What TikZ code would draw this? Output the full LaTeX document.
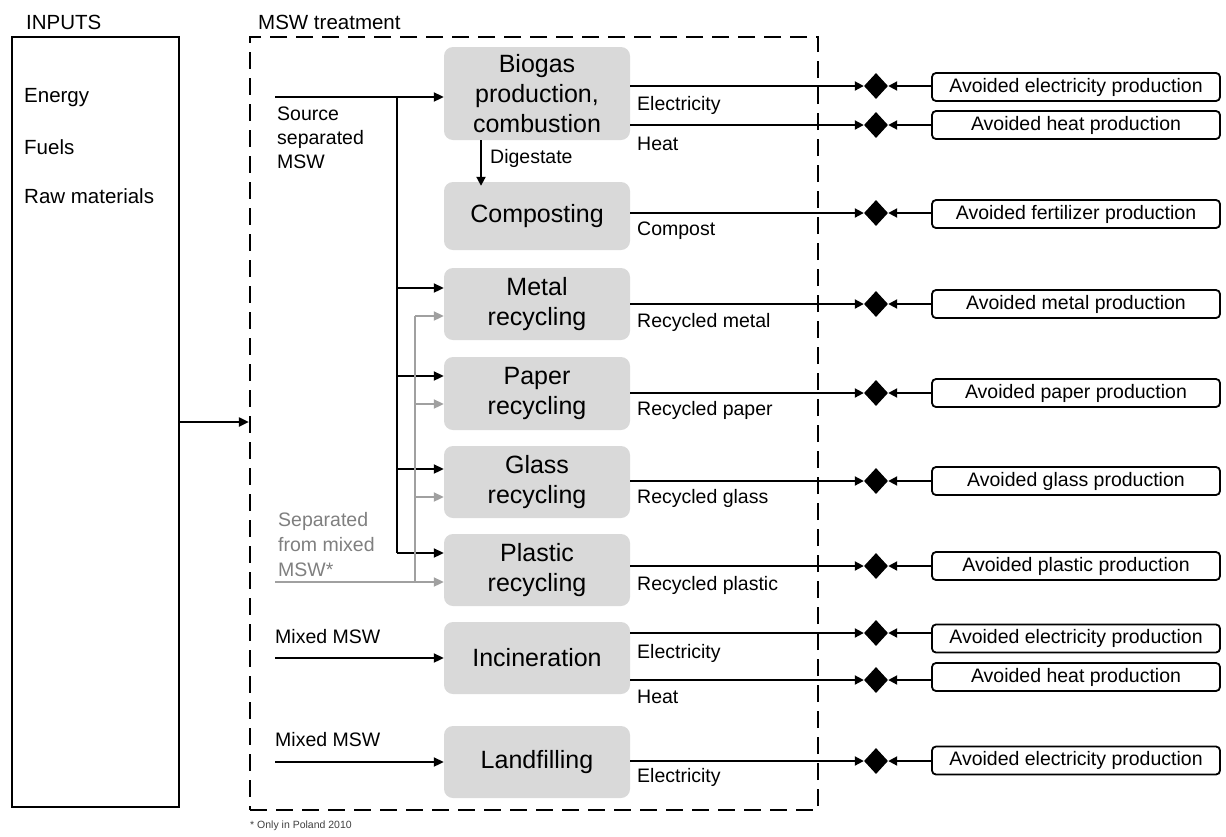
\documentclass[tikz,border=0pt]{standalone}
\usepackage{fontspec}
\setmainfont{Liberation Sans}
\usetikzlibrary{arrows.meta,shapes.geometric,calc}
\definecolor{procgray}{HTML}{D9D9D9}
\definecolor{arrgray}{HTML}{A0A0A0}
\definecolor{txtgray}{HTML}{7F7F7F}
\newcommand{\lblfont}{\fontsize{19.5}{24}\selectfont}
\newcommand{\hdrfont}{\fontsize{20.5}{24}\selectfont}
\begin{document}
\begin{tikzpicture}[x=1pt,y=-1pt,
  proc/.style={fill=procgray, rounded corners=9pt, minimum width=186pt, align=center, font=\fontsize{25}{30}\selectfont, inner sep=0pt},
  avoid/.style={draw, line width=1.8pt, rounded corners=4pt, minimum width=288pt, minimum height=28pt, inner sep=0pt, font=\lblfont},
  dia/.style={diamond, fill=black, minimum width=24pt, minimum height=26pt, inner sep=0pt},
  arr/.style={line width=2pt, -{Triangle[length=10pt,width=9pt]}},
  sarr/.style={line width=2pt, -{Triangle[length=9pt,width=9pt]}},
  garr/.style={arr, draw=arrgray, color=arrgray},
  lbl/.style={font=\lblfont, inner sep=0pt, anchor=west},
]
\useasboundingbox (0,0) rectangle (1226,836);

% Inputs
\node[draw, line width=1.2pt, minimum width=167pt, minimum height=770pt, inner sep=0pt] (inp) at (95.5,422) {};
\node[font=\hdrfont, inner sep=0pt, anchor=west] (inph) at (26,22) {INPUTS};
\node[font=\hdrfont, inner sep=0pt, anchor=west] (en) at (24,98) {Energy};
\node[font=\hdrfont, inner sep=0pt, anchor=west] (fu) at (24,147) {Fuels};
\node[font=\hdrfont, inner sep=0pt, anchor=west] (rm) at (24,196) {Raw materials};

% MSW treatment boundary
\node[draw, dash pattern=on 17pt off 9pt, line width=2.2pt, minimum width=568pt, minimum height=773pt, inner sep=0pt] (msw) at (534,423.5) {};
\node[font=\hdrfont, inner sep=0pt, anchor=west] (mswh) at (258,22) {MSW treatment};
\draw[arr] (inp.east) -- (inp.east -| msw.west);

% Processes
\node[proc, minimum height=93pt] (bio) at (537,93.5) {Biogas\\production,\\combustion};
\node[proc, minimum height=68pt] (comp) at (537,216) {Composting};
\node[proc, minimum height=72pt] (met) at (537,304) {Metal\\recycling};
\node[proc, minimum height=73pt] (pap) at (537,393.5) {Paper\\recycling};
\node[proc, minimum height=72pt] (gla) at (537,482) {Glass\\recycling};
\node[proc, minimum height=72pt] (pla) at (537,570) {Plastic\\recycling};
\node[proc, minimum height=72pt] (inc) at (537,658) {Incineration};
\node[proc, minimum height=72pt] (lan) at (537,762) {Landfilling};

% Source separated MSW
\coordinate (ss0) at (275,97);
\coordinate (ssj) at (397,97);
\coordinate (ssb) at (397,553);
\node[font=\fontsize{19.5}{24}\selectfont, align=left, inner sep=0pt, anchor=north west] (sslbl) at (277,107) {Source\\separated\\MSW};
\draw[arr] (ss0) -- (bio.west |- ss0);
\draw[line width=2pt] (ssj) -- (ssb);
\draw[arr] (397,288) -- (met.west |- 0,288);
\draw[arr] (397,376) -- (pap.west |- 0,376);
\draw[arr] (397,469) -- (gla.west |- 0,469);
\draw[arr] (ssb) -- (pla.west |- ssb);

% Separated from mixed MSW (grey)
\coordinate (gm0) at (275,582);
\coordinate (gmt) at (415,316);
\node[font=\fontsize{19.5}{25}\selectfont, text=txtgray, align=left, inner sep=0pt, anchor=north west] (gmlbl) at (278,512) {Separated\\from mixed\\MSW*};
\draw[garr] (gm0) -- (pla.west |- gm0);
\draw[line width=2pt, draw=arrgray] (gmt) -- (415,582);
\draw[garr] (gmt) -- (met.west |- gmt);
\draw[garr] (415,404) -- (pap.west |- 0,404);
\draw[garr] (415,497) -- (gla.west |- 0,497);

% Digestate
\draw[sarr] ([xshift=-56pt]bio.south) -- ([xshift=-56pt,yshift=-4pt]comp.north);
\node[lbl] (dig) at (490,158) {Digestate};

% Mixed MSW inputs
\coordinate (mi) at (275,658);
\coordinate (ml) at (275,762);
\node[lbl] (milbl) at (275,637) {Mixed MSW};
\node[lbl] (mllbl) at (275,740) {Mixed MSW};
\draw[arr] (mi) -- (inc.west |- mi);
\draw[arr] (ml) -- (lan.west |- ml);

% Diamonds
\foreach \n/\y in {d1/86,d2/125,d3/213,d4/304,d5/393,d6/481,d7/566,d8/633,d9/680,d10/761}
  \node[dia] (\n) at (876,\y) {};

% Avoided boxes
\node[avoid] (a1) at (1076,87) {Avoided electricity production};
\node[avoid] (a2) at (1076,125) {Avoided heat production};
\node[avoid] (a3) at (1076,214) {Avoided fertilizer production};
\node[avoid] (a4) at (1076,304) {Avoided metal production};
\node[avoid] (a5) at (1076,393) {Avoided paper production};
\node[avoid] (a6) at (1076,481) {Avoided glass production};
\node[avoid] (a7) at (1076,566) {Avoided plastic production};
\node[avoid] (a8) at (1076,638.5) {Avoided electricity production};
\node[avoid] (a9) at (1076,677) {Avoided heat production};
\node[avoid] (a10) at (1076,760.5) {Avoided electricity production};

% Product flows
\draw[sarr] (bio.east |- d1) -- (d1.west);
\draw[sarr] (bio.east |- d2) -- (d2.west);
\draw[sarr] (comp.east |- d3) -- (d3.west);
\draw[sarr] (met.east |- d4) -- (d4.west);
\draw[sarr] (pap.east |- d5) -- (d5.west);
\draw[sarr] (gla.east |- d6) -- (d6.west);
\draw[sarr] (pla.east |- d7) -- (d7.west);
\draw[sarr] (inc.east |- d8) -- (d8.west);
\draw[sarr] (inc.east |- d9) -- (d9.west);
\draw[sarr] (lan.east |- d10) -- (d10.west);

\foreach \i in {1,...,10}
  \draw[sarr] (a\i.west |- d\i) -- (d\i.east);

% Flow labels
\node[lbl] (l1) at (637,105) {Electricity};
\node[lbl] (l2) at (637,144) {Heat};
\node[lbl] (l3) at (637,231) {Compost};
\node[lbl] (l4) at (637,322) {Recycled metal};
\node[lbl] (l5) at (637,410) {Recycled paper};
\node[lbl] (l6) at (637,498) {Recycled glass};
\node[lbl] (l7) at (637,585) {Recycled plastic};
\node[lbl] (l8) at (637,653) {Electricity};
\node[lbl] (l9) at (637,697) {Heat};
\node[lbl] (l10) at (637,777) {Electricity};

% Footnote
\node[font=\fontsize{10.5}{12}\selectfont, text=black!75, inner sep=0pt, anchor=west] (fn) at (250,826) {* Only in Poland 2010};
\end{tikzpicture}
\end{document}
